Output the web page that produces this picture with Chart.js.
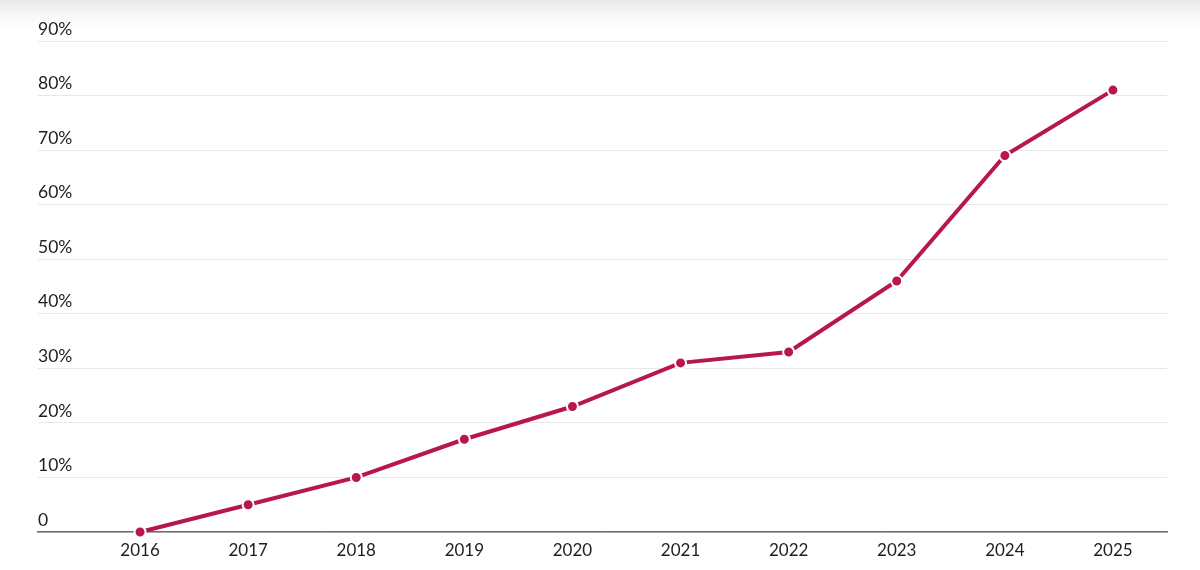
<!DOCTYPE html>
<html>
<head>
<meta charset="utf-8">
<title>Line chart</title>
<script src="https://cdn.jsdelivr.net/npm/chart.js@4.4.1/dist/chart.umd.min.js"></script>
<style>
    html, body { margin: 0; padding: 0; }
    body {
        width: 1200px; height: 570px; overflow: hidden;
        background: linear-gradient(to bottom, #e9e9e9 0px, #f7f7f7 14px, #ffffff 30px);
    }
    #wrap { position: relative; width: 1200px; height: 570px; }
</style>
</head>
<body>
<div id="wrap"><canvas id="chart"></canvas></div>
<script>
// ─── DATA ────────────────────────────────────────────────────────────────
var years = [2016, 2017, 2018, 2019, 2020, 2021, 2022, 2023, 2024, 2025];
var shares = [0, 5, 10, 17, 23, 31, 33, 46, 69, 81];
var yTicks = [0, 10, 20, 30, 40, 50, 60, 70, 80, 90];

var lineColor = '#b8164f';
var fontFamily = 'Lato, "Noto Sans", sans-serif';

var points = years.map(function (yr, i) { return { x: yr, y: shares[i] }; });

new Chart(document.getElementById('chart').getContext('2d'), {
    type: 'line',
    data: {
        datasets: [{
            data: points,
            borderColor: lineColor,
            borderWidth: 4,
            pointRadius: 5.5,
            pointBorderWidth: 2,
            pointBorderColor: '#ffffff',
            pointBackgroundColor: lineColor,
            tension: 0,
            clip: false
        }]
    },
    options: {
        responsive: true,
        maintainAspectRatio: false,
        animation: false,
        layout: { padding: { left: 38, right: 33, top: 41, bottom: 0 } },
        plugins: { legend: { display: false }, tooltip: { enabled: false } },
        scales: {
            x: {
                type: 'linear',
                min: 2015.056,
                max: 2025.5,
                grid: { display: false, drawTicks: false },
                border: { display: true, color: '#6b6b6b', width: 1.5 },
                afterFit: function (s) { s.height = 38; },
                ticks: {
                    stepSize: 1,
                    includeBounds: false,
                    autoSkip: false,
                    maxRotation: 0,
                    padding: 8,
                    color: '#1e1e1e',
                    font: { family: fontFamily, size: 17 },
                    callback: function (v) { return String(v); }
                }
            },
            y: {
                min: yTicks[0],
                max: yTicks[yTicks.length - 1],
                grid: { color: '#e8e8e8', lineWidth: 1, drawTicks: false },
                border: { display: false },
                afterFit: function (s) { s.width = 0; },
                afterBuildTicks: function (s) {
                    s.ticks = yTicks.map(function (v) { return { value: v }; });
                },
                ticks: {
                    mirror: true,
                    padding: 0,
                    labelOffset: -12,
                    color: '#1e1e1e',
                    font: { family: fontFamily, size: 17.5 },
                    callback: function (v) { return v === 0 ? '0' : v + '%'; }
                }
            }
        }
    }
});
</script>
</body>
</html>
